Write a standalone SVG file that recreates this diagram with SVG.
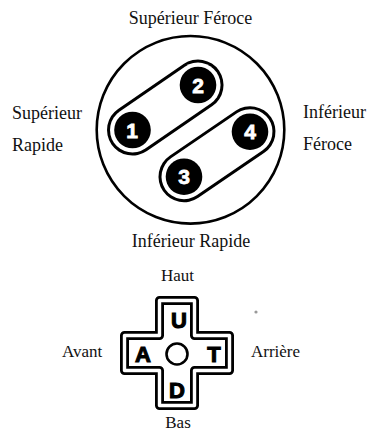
<svg xmlns="http://www.w3.org/2000/svg" width="370" height="434" viewBox="0 0 370 434">
<style>
.lbl{font-family:"Liberation Serif","Times New Roman",serif;font-size:18px;fill:#111}
.lbl2{font-family:"Liberation Serif","Times New Roman",serif;font-size:17px;fill:#111}
.cap-o{stroke:#000;stroke-width:51;stroke-linecap:round}
.cap-i{stroke:#fff;stroke-width:45;stroke-linecap:round}
.btn{fill:#000}
.num{font-family:"Liberation Sans",Arial,sans-serif;font-weight:bold;font-size:21px;fill:#fff;stroke:#fff;stroke-width:0.8;text-anchor:middle}
.key{font-family:"Liberation Sans",Arial,sans-serif;font-weight:bold;font-size:22px;fill:#000;stroke:#000;stroke-width:1.1;text-anchor:middle}
</style>
<rect width="370" height="434" fill="#fff"/>
<g id="pad-buttons">
<circle cx="190.5" cy="129.8" r="93.8" fill="#fff" stroke="#000" stroke-width="2.6"/>
<g id="capsule-12">
<line class="cap-o" x1="132.5" y1="130" x2="198" y2="85"/>
<line class="cap-i" x1="132.5" y1="130" x2="198" y2="85"/>
</g>
<g id="capsule-34">
<line class="cap-o" x1="184" y1="176.7" x2="250" y2="131.7"/>
<line class="cap-i" x1="184" y1="176.7" x2="250" y2="131.7"/>
</g>
<g id="btn1"><circle class="btn" cx="132.5" cy="130" r="18.3"/><text class="num" x="132" y="137.5">1</text></g>
<g id="btn2"><circle class="btn" cx="198" cy="85" r="18.3"/><text class="num" x="198" y="92.5">2</text></g>
<g id="btn3"><circle class="btn" cx="184" cy="176.7" r="18.3"/><text class="num" x="184" y="184">3</text></g>
<g id="btn4"><circle class="btn" cx="250" cy="131.7" r="18.3"/><text class="num" x="250" y="139">4</text></g>
</g>
<g id="labels-top">
<text class="lbl" x="190.5" y="24" text-anchor="middle">Supérieur Féroce</text>
<text class="lbl" x="12" y="119">Supérieur</text>
<text class="lbl" x="12" y="151">Rapide</text>
<text class="lbl" x="303" y="118">Inférieur</text>
<text class="lbl" x="303" y="150">Féroce</text>
<text class="lbl" x="191" y="247" text-anchor="middle">Inférieur Rapide</text>
</g>
<g id="dpad">
<path d="M159.5 300.5H194.5V335.5H229.5V370.5H194.5V405.5H159.5V370.5H124.5V335.5H159.5Z" fill="#fff" stroke="#000" stroke-width="9" stroke-linejoin="round"/>
<path d="M159.5 300.5H194.5V335.5H229.5V370.5H194.5V405.5H159.5V370.5H124.5V335.5H159.5Z" fill="none" stroke="#fff" stroke-width="3.4" stroke-linejoin="round"/>
<circle cx="177" cy="354" r="10.5" fill="none" stroke="#000" stroke-width="2.6"/>
<text class="key" x="179" y="328">U</text>
<text class="key" x="143" y="362">A</text>
<text class="key" x="214" y="362">T</text>
<text class="key" x="177" y="398">D</text>
</g>
<g id="labels-bottom">
<text class="lbl2" x="177.5" y="281" text-anchor="middle">Haut</text>
<text class="lbl2" x="178" y="428" text-anchor="middle">Bas</text>
<text class="lbl2" x="62" y="357">Avant</text>
<text class="lbl2" x="251" y="357">Arrière</text>
</g>
<circle cx="256" cy="312" r="1.6" fill="#999"/>
</svg>
